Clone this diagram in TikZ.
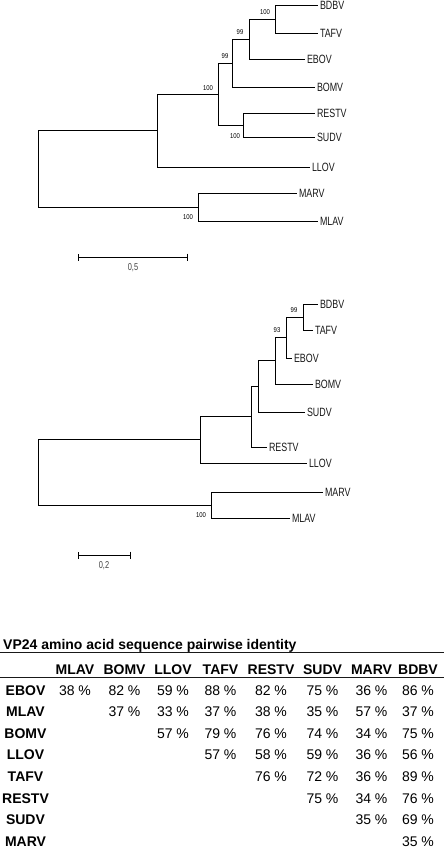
\documentclass[tikz,border=0pt]{standalone}
\usepackage{fontspec}
\setmainfont{Liberation Sans}
\newfontfamily\leaffont[FakeStretch=0.74]{Liberation Sans}
\newfontfamily\bootfont[FakeStretch=0.85]{Liberation Sans}
\newfontfamily\tabfont{Liberation Sans}
\usetikzlibrary{arrows.meta}
\newcommand\LeafFnt{\leaffont\fontsize{12pt}{12pt}\selectfont}
\newcommand\BootFnt{\bootfont\fontsize{7pt}{7pt}\selectfont}
\newcommand\ScaleFnt{\leaffont\fontsize{10pt}{10pt}\selectfont}
\newcommand\TabFnt{\tabfont\fontsize{14pt}{14pt}\selectfont}
\begin{document}
\begin{tikzpicture}[x=1pt,y=-1pt,
  branch/.style={line width=0.9pt, draw=black},
  leaf/.style={anchor=west, inner sep=1.8pt, text=black!90, font=\LeafFnt},
  boot/.style={inner sep=0pt, text=black, font=\BootFnt},
  scl/.style={inner sep=0pt, text=black!75, font=\ScaleFnt},
  scalebar/.style={branch, {Bar[width=7pt]}-{Bar[width=7pt]}},
  hdr/.style={anchor=base, inner sep=0pt, font=\TabFnt\bfseries},
  val/.style={anchor=base, inner sep=0pt, font=\TabFnt},
  rule/.style={line width=1.4pt, draw=black!90}
]
\useasboundingbox (0,0) rectangle (444,850);
\fill[white] (0,0) rectangle (444,850);

% ---------------- Tree 1 ----------------
\node[leaf] (aBDBV)  at (318,5)   {BDBV};
\node[leaf] (aTAFV)  at (318,33)  {TAFV};
\node[leaf] (aEBOV)  at (305,59)  {EBOV};
\node[leaf] (aBOMV)  at (315,87)  {BOMV};
\node[leaf] (aRESTV) at (315,113) {RESTV};
\node[leaf] (aSUDV)  at (315,137) {SUDV};
\node[leaf] (aLLOV)  at (310,167) {LLOV};
\node[leaf] (aMARV)  at (297,193) {MARV};
\node[leaf] (aMLAV)  at (318,221) {MLAV};

\coordinate (a1) at (275,19);
\coordinate (a2) at (249,39);
\coordinate (a3) at (232,63);
\coordinate (a4) at (243,125);
\coordinate (a5) at (218,94);
\coordinate (a6) at (157,130.5);
\coordinate (a7) at (198,207);
\coordinate (a0) at (38,168.75);

\draw[branch] (a1) |- (aBDBV.west) (a1) |- (aTAFV.west);
\draw[branch] (a2) |- (a1) (a2) |- (aEBOV.west);
\draw[branch] (a3) |- (a2) (a3) |- (aBOMV.west);
\draw[branch] (a4) |- (aRESTV.west) (a4) |- (aSUDV.west);
\draw[branch] (a5) |- (a3) (a5) |- (a4);
\draw[branch] (a6) |- (a5) (a6) |- (aLLOV.west);
\draw[branch] (a7) |- (aMARV.west) (a7) |- (aMLAV.west);
\draw[branch] (a0) |- (a6) (a0) |- (a7);

\node[boot] (ab1) at (265,12)  {100};
\node[boot] (ab2) at (240,32)  {99};
\node[boot] (ab3) at (225,56)  {99};
\node[boot] (ab4) at (208,88)  {100};
\node[boot] (ab5) at (235,136) {100};
\node[boot] (ab6) at (188,217) {100};

\coordinate (as1) at (78,257);
\coordinate (as2) at (188,257);
\draw[scalebar] (as1) -- (as2);
\node[scl] (asl) at (133,268) {0,5};

% ---------------- Tree 2 ----------------
\node[leaf] (cBDBV)  at (318,304) {BDBV};
\node[leaf] (cTAFV)  at (313,330) {TAFV};
\node[leaf] (cEBOV)  at (292,358) {EBOV};
\node[leaf] (cBOMV)  at (313,384) {BOMV};
\node[leaf] (cSUDV)  at (305,412) {SUDV};
\node[leaf] (cRESTV) at (267,447) {RESTV};
\node[leaf] (cLLOV)  at (307,463) {LLOV};
\node[leaf] (cMARV)  at (323,492) {MARV};
\node[leaf] (cMLAV)  at (290,518) {MLAV};

\coordinate (c1) at (303,317);
\coordinate (c2) at (286,337.5);
\coordinate (c3) at (275,360.75);
\coordinate (c4) at (258,386.4);
\coordinate (c5) at (251,416.7);
\coordinate (c6) at (200,439.8);
\coordinate (c7) at (211,505);
\coordinate (c0) at (38,472.4);

\draw[branch] (c1) |- (cBDBV.west) (c1) |- (cTAFV.west);
\draw[branch] (c2) |- (c1) (c2) |- (cEBOV.west);
\draw[branch] (c3) |- (c2) (c3) |- (cBOMV.west);
\draw[branch] (c4) |- (c3) (c4) |- (cSUDV.west);
\draw[branch] (c5) |- (c4) (c5) |- (cRESTV.west);
\draw[branch] (c6) |- (c5) (c6) |- (cLLOV.west);
\draw[branch] (c7) |- (cMARV.west) (c7) |- (cMLAV.west);
\draw[branch] (c0) |- (c6) (c0) |- (c7);

\node[boot] (cb1) at (294,310) {99};
\node[boot] (cb2) at (277,330) {93};
\node[boot] (cb3) at (201,515) {100};

\coordinate (cs1) at (78,555);
\coordinate (cs2) at (131,555);
\draw[scalebar] (cs1) -- (cs2);
\node[scl] (csl) at (104,566) {0,2};

% ---------------- Table ----------------
\node[anchor=base west, inner sep=0pt, font=\TabFnt\bfseries] (title) at (3,649)
  {VP24 amino acid sequence pairwise identity};
\coordinate (r1a) at (0,652.5);
\coordinate (r1b) at (444,652.5);
\draw[rule] (r1a) -- (r1b);
\coordinate (r2a) at (0,677.5);
\coordinate (r2b) at (444,677.5);
\draw[rule] (r2a) -- (r2b);

\foreach \n/\x [count=\i] in {MLAV/75,BOMV/124.5,LLOV/173,TAFV/220.5,RESTV/271,SUDV/322.5,MARV/371.5,BDBV/418}
  \node[hdr] (h\i) at (\x,674) {\n};

\foreach \n/\y [count=\r] in {EBOV/695,MLAV/716.6,BOMV/738.2,LLOV/759.8,TAFV/781.4,RESTV/803,SUDV/824.6,MARV/846}
  \node[hdr] (row\r) at (25.5,\y) {\n};

% values: row / column / text
\foreach \r/\c/\v in {
  1/1/38,1/2/82,1/3/59,1/4/88,1/5/82,1/6/75,1/7/36,1/8/86,
  2/2/37,2/3/33,2/4/37,2/5/38,2/6/35,2/7/57,2/8/37,
  3/3/57,3/4/79,3/5/76,3/6/74,3/7/34,3/8/75,
  4/4/57,4/5/58,4/6/59,4/7/36,4/8/56,
  5/5/76,5/6/72,5/7/36,5/8/89,
  6/6/75,6/7/34,6/8/76,
  7/7/35,7/8/69,
  8/8/35}
  \node[val] (v\r-\c) at (h\c |- row\r.base) [anchor=base] {\v~\%};
\end{tikzpicture}
\end{document}
